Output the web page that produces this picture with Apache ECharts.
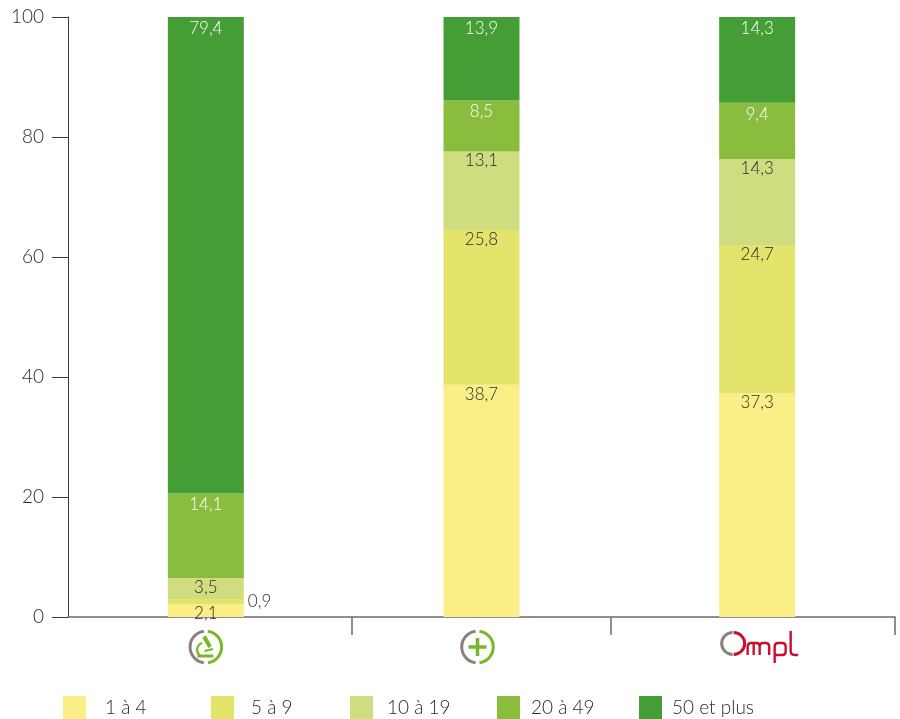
<!DOCTYPE html>
<html>
<head>
<meta charset="utf-8">
<style>html,body{margin:0;background:#fff}#chart{width:900px;height:719px}</style>
<script src="https://cdn.jsdelivr.net/npm/echarts@6/dist/echarts.min.js"></script>
</head>
<body>
<div id="chart"></div>
<script>
const categories = ["recherche", "plus", "ompl"];
const groupNames = ["1 à 4", "5 à 9", "10 à 19", "20 à 49", "50 et plus"];
const group1to4 = [2.1, 38.7, 37.3];
const group5to9 = [0.9, 25.8, 24.7];
const group10to19 = [3.5, 13.1, 14.3];
const group20to49 = [14.1, 8.5, 9.4];
const group50plus = [79.4, 13.9, 14.3];
const yTicks = [0, 20, 40, 60, 80, 100];

const FONT = "Lato, sans-serif";
const TEXT_COLOR = "#2e2929";
const COLORS = ["#f9ef86", "#e4e36c", "#cfdc80", "#8abd3d", "#459d35"];
const LEGEND_LEFT = [63, 211, 350, 497, 639];
const LEGEND_TEXT_PAD = [14, 12, 9, 6, 5];
// x positions of the separators, in band units (the bands themselves are equal, the ticks are not)
const SEPARATORS = [1.03, 1.97, 3];

const GREY = "#8c807c", GREEN = "#76b82a", RED = "#c8102e";
const ring = (dx) =>
  `<g fill="none" stroke-width="3" transform="translate(${dx} 0)">` +
  `<path d="M15.5 1.33A15.8 15.8 0 0 0 15.5 32.67" stroke="${GREY}"/>` +
  `<path d="M19.5 1.33A15.8 15.8 0 0 1 19.5 32.67" stroke="${GREEN}"/></g>`;
const svgUri = (w, h, body) =>
  "data:image/svg+xml;charset=utf-8," +
  encodeURIComponent(`<svg xmlns="http://www.w3.org/2000/svg" width="${w}" height="${h}" viewBox="0 0 ${w} ${h}">${body}</svg>`);

const icons = {
  recherche: svgUri(36, 34, ring(0.5) +
    `<path d="M14.5 7.5l3.5-2 6 10.5-3.5 2z" fill="${GREEN}"/>` +
    `<path d="M14 13C8 16 8 22 12 25" fill="none" stroke="${GREEN}" stroke-width="2.2"/>` +
    `<path d="M9.5 24.5h16v3h-16z" fill="${GREEN}"/><path d="M16.5 20l8.5-2 .5 2-8.5 2z" fill="${GREEN}"/>`),
  // the + icon sits a little left of its band centre
  plus: svgUri(44, 34, ring(0.5) +
    `<path d="M16.2 8h3.6v7.2H27v3.6h-7.2V26h-3.6v-7.2H9v-3.6h7.2z" fill="${GREEN}"/>`),
  ompl: svgUri(84, 34,
    `<g fill="none" stroke-width="3" stroke-linecap="butt" transform="translate(4.5 0)">` +
    `<path d="M13 2.5A11 11 0 0 0 13 24.5" stroke="${GREY}"/>` +
    `<path d="M14 2.5A11 11 0 0 1 14 24.5" stroke="${RED}"/>` +
    `<g stroke="${RED}" stroke-width="2.4">` +
    `<path d="M29 25V16.5q0-3.5 3.5-3.5h5q3.5 0 3.5 3.5V25M35 13V25M41 16.5q0-3.5 3.5-3.5h2.5q3.5 0 3.5 3.5V25" transform="translate(-1 0)"/>` +
    `<path d="M55 33V16.5q0-3.5 3.5-3.5h4q3.5 0 3.5 3.5v5q0 3.5-3.5 3.5H55"/>` +
    `<path d="M71 1V21q0 4 4 4h3.5"/></g></g>`)
};
const iconSizes = { recherche: [36, 34], plus: [44, 34], ompl: [84, 34] };

const rich = {};
categories.forEach((c) => {
  rich[c] = {
    width: iconSizes[c][0],
    height: iconSizes[c][1],
    backgroundColor: { image: icons[c] }
  };
});

const decimal = (v) => String(v).replace(".", ",");

function barSeries(idx, values, labelColor, distance) {
  return {
    name: groupNames[idx],
    type: "bar",
    stack: "total",
    barWidth: 76,
    animation: false,
    itemStyle: { color: COLORS[idx] },
    label: {
      show: true,
      position: "insideTop",
      distance: distance,
      color: labelColor,
      fontFamily: FONT,
      fontWeight: 300,
      fontSize: 17,
      formatter: (p) => decimal(p.value)
    },
    data: values.map((v) => ({ value: v }))
  };
}

const series = [
  barSeries(0, group1to4, TEXT_COLOR, 1),
  barSeries(1, group5to9, TEXT_COLOR, 1),
  barSeries(2, group10to19, TEXT_COLOR, 1),
  barSeries(3, group20to49, "#ffffff", 3),
  barSeries(4, group50plus, "#ffffff", 3)
];
// 0,9 does not fit in its segment, so it goes next to the bar
series[1].data[0].label = { position: "right", distance: 4 };

const chart = echarts.init(document.getElementById("chart"), null, { renderer: "canvas" });
chart.setOption({
  backgroundColor: "#fff",
  animation: false,
  textStyle: { fontFamily: FONT },
  grid: { left: 68, right: 5, top: 17, height: 600 },
  legend: groupNames.map((name, i) => ({
    data: [name],
    left: LEGEND_LEFT[i],
    top: 696,
    padding: 0,
    itemWidth: 23,
    itemHeight: 23,
    selectedMode: false,
    icon: "rect",
    textStyle: {
      color: TEXT_COLOR,
      fontFamily: FONT,
      fontWeight: 300,
      fontSize: 19,
      padding: [2, 0, 0, LEGEND_TEXT_PAD[i]]
    }
  })),
  xAxis: [
    {
      type: "category",
      data: categories,
      axisLine: { lineStyle: { color: "#6f6a6a", width: 1.5 } },
      axisTick: { show: false },
      axisLabel: {
        margin: 13,
        interval: 0,
        formatter: (v) => `{${v}|}`,
        rich: rich
      }
    },
    {
      type: "value",
      position: "bottom",
      min: 0,
      max: 3,
      axisLine: { show: false },
      axisLabel: { show: false },
      splitLine: { show: false },
      axisTick: {
        show: true,
        length: 18,
        customValues: SEPARATORS,
        lineStyle: { color: "#6f6a6a", width: 1.5 }
      }
    }
  ],
  yAxis: {
    type: "value",
    min: 0,
    max: 100,
    interval: 20,
    axisLine: { show: true, lineStyle: { color: "#3f3a3a", width: 1 } },
    axisTick: { show: true, length: 16, lineStyle: { color: "#3f3a3a", width: 1 } },
    splitLine: { show: false },
    axisLabel: {
      margin: 24,
      color: TEXT_COLOR,
      fontFamily: FONT,
      fontWeight: 300,
      fontSize: 19,
      customValues: yTicks
    }
  },
  series: series
});
</script>
</body>
</html>
